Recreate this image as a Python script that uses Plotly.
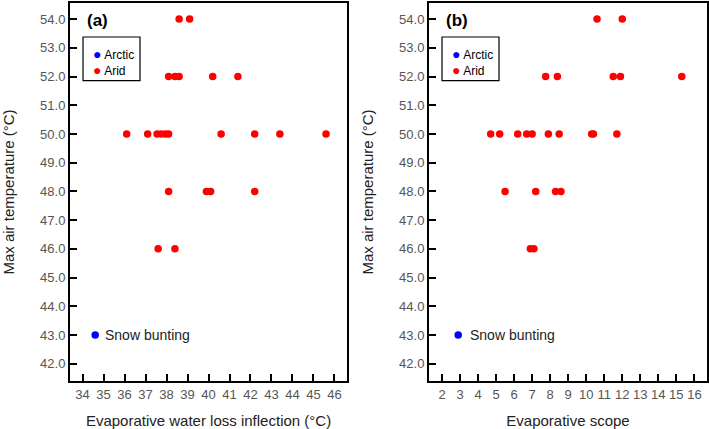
import plotly.graph_objects as go

# Panel (a): evaporative water loss inflection (°C) vs max air temperature (°C)
arid_ewl_x = [38.6, 39.1,
              38.1, 38.4, 38.6, 40.2, 41.4,
              36.1, 37.1, 37.55, 37.75, 37.95, 38.1, 40.6, 42.2, 43.4, 45.6,
              38.1, 39.9, 40.1, 42.2,
              37.6, 38.4]
arid_ewl_y = [54, 54,
              52, 52, 52, 52, 52,
              50, 50, 50, 50, 50, 50, 50, 50, 50, 50,
              48, 48, 48, 48,
              46, 46]
arctic_ewl_x = [34.6]
arctic_ewl_y = [43]

# Panel (b): evaporative scope vs max air temperature (°C)
arid_scope_x = [10.6, 12.0,
                7.75, 8.4, 11.5, 11.9, 15.3,
                4.7, 5.2, 6.2, 6.7, 7.0, 7.9, 8.5, 10.3, 10.4, 11.7,
                5.5, 7.2, 8.3, 8.6,
                6.9, 7.1]
arid_scope_y = [54, 54,
                52, 52, 52, 52, 52,
                50, 50, 50, 50, 50, 50, 50, 50, 50, 50,
                48, 48, 48, 48,
                46, 46]
arctic_scope_x = [2.9]
arctic_scope_y = [43]

y_ticks = [42, 43, 44, 45, 46, 47, 48, 49, 50, 51, 52, 53, 54]
x_ticks_a = list(range(34, 47))
x_ticks_b = list(range(2, 17))

RED = "#ff0000"
BLUE = "#0000ff"
FONT = "Liberation Sans, Arial, sans-serif"
TICKCOL = "#555555"
MS = 7.5

fig = go.Figure()
fig.add_trace(go.Scatter(x=arid_ewl_x, y=arid_ewl_y, mode="markers", name="Arid",
                         marker=dict(color=RED, size=MS), xaxis="x", yaxis="y", showlegend=False))
fig.add_trace(go.Scatter(x=arctic_ewl_x, y=arctic_ewl_y, mode="markers", name="Arctic",
                         marker=dict(color=BLUE, size=MS), xaxis="x", yaxis="y", showlegend=False))
fig.add_trace(go.Scatter(x=arid_scope_x, y=arid_scope_y, mode="markers", name="Arid",
                         marker=dict(color=RED, size=MS), xaxis="x2", yaxis="y2", showlegend=False))
fig.add_trace(go.Scatter(x=arctic_scope_x, y=arctic_scope_y, mode="markers", name="Arctic",
                         marker=dict(color=BLUE, size=MS), xaxis="x2", yaxis="y2", showlegend=False))

axis_common = dict(showline=True, linecolor="black", linewidth=2, mirror=True,
                   ticks="inside", ticklen=7, tickwidth=1.5, tickcolor="black",
                   showgrid=False, zeroline=False,
                   tickfont=dict(family=FONT, size=13, color=TICKCOL))

yaxis_common = dict(axis_common, range=[41.4, 54.56], tickvals=y_ticks,
                    ticktext=[f"{v:.1f}" for v in y_ticks],
                    title=dict(text="Max air temperature (°C)", standoff=22,
                               font=dict(family=FONT, size=15, color="#222222")))

fig.update_layout(
    width=709, height=429,
    margin=dict(l=70, r=2, t=3, b=48, autoexpand=False),
    paper_bgcolor="white", plot_bgcolor="white",
    font=dict(family=FONT),
    xaxis=dict(axis_common, domain=[0, 0.4349], range=[33.4, 46.6], tickvals=x_ticks_a,
               anchor="y", automargin=False,
               title=dict(text="Evaporative water loss inflection (°C)", standoff=15,
                          font=dict(family=FONT, size=15, color="#222222"))),
    yaxis=dict(yaxis_common, anchor="x", automargin=False),
    xaxis2=dict(axis_common, domain=[0.5636, 1], range=[1.28, 16.7], tickvals=x_ticks_b,
                anchor="y2", automargin=False,
                title=dict(text="Evaporative scope", standoff=15,
                           font=dict(family=FONT, size=15, color="#222222"))),
    yaxis2=dict(yaxis_common, anchor="x2", automargin=False),
)

shapes = []
annotations = []
for xa, ya, lx0, lx1, tag, snow_x, shift in [
    ("x", "y", 0.047, 0.2527, "(a)", arctic_ewl_x[0], 8),
    ("x2", "y2", 0.0468, 0.2518, "(b)", arctic_scope_x[0], 10),
]:
    xd = f"{xa} domain"
    yd = f"{ya} domain"
    shapes.append(dict(type="rect", xref=xd, yref=yd, x0=lx0, x1=lx1, y0=0.7944, y1=0.910,
                       line=dict(color="black", width=1.2), fillcolor="white", layer="above"))
    # panel label
    annotations.append(dict(xref=xd, yref=yd, x=0.055, y=0.955, text=f"<b>{tag}</b>",
                            showarrow=False, xanchor="left", yanchor="middle",
                            font=dict(family=FONT, size=17, color="black")))
    # legend entries (one text block)
    legend_text = (f"<span style='color:{BLUE};font-size:14px'>●</span> Arctic<br>"
                   f"<span style='color:{RED};font-size:14px'>●</span> Arid")
    annotations.append(dict(xref=xd, yref=yd, x=lx0 + 0.028, y=0.843, text=legend_text,
                            showarrow=False, xanchor="left", yanchor="middle", align="left",
                            font=dict(family=FONT, size=12, color="black")))
    # snow bunting label
    annotations.append(dict(xref=xa, yref=ya, x=snow_x, y=43, text="Snow bunting",
                            showarrow=False, xanchor="left", yanchor="middle", xshift=shift,
                            font=dict(family=FONT, size=14, color="#222222")))

fig.update_layout(shapes=shapes, annotations=annotations)
fig.write_html("out.html", config={"displayModeBar": False},
               post_script="document.body.style.margin='0';document.body.style.padding='0';"
                           "document.documentElement.style.overflow='hidden';")
